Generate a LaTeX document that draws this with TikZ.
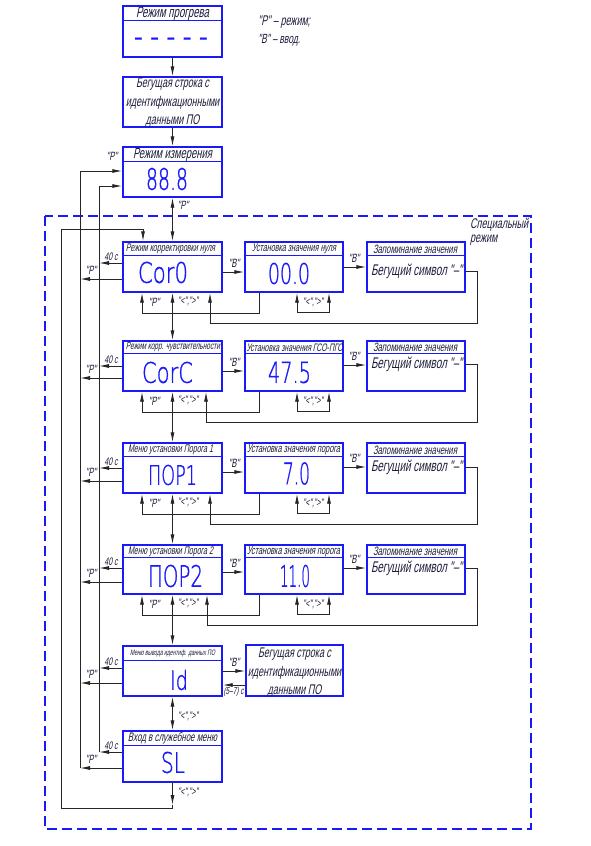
\documentclass[tikz,border=0pt]{standalone}
\usepackage{fontspec}
\usetikzlibrary{arrows.meta,calc}
\newfontfamily\gost[FakeStretch=0.64,FakeSlant=0.2]{Liberation Sans}
\newfontfamily\seg[FakeBold=1.2]{DejaVu Sans ExtraLight}
\newfontfamily\segm{DejaVu Sans Mono}
\definecolor{bblue}{RGB}{25,25,250}
\definecolor{ink}{RGB}{28,28,58}
\newcommand\fitw[2]{\resizebox{#1}{!}{#2}}
\newcommand\fitwh[3]{\resizebox{#1}{#2}{#3}}
\begin{document}
\begin{tikzpicture}[x=1pt,y=-1pt,
  box/.style={draw=bblue, line width=1.4pt, minimum width=99pt, minimum height=50pt, inner sep=0pt},
  divl/.style={draw=bblue, line width=1.4pt},
  ttl/.style={inner sep=0pt, text=ink, font=\gost\fontsize{14}{16}\selectfont},
  mtxt/.style={inner sep=0pt, text=ink, align=center, font=\gost\fontsize{14}{18.5}\selectfont},
  lbl/.style={inner sep=0pt, text=ink, font=\gost\fontsize{11}{13}\selectfont},
  slbl/.style={inner sep=0pt, text=ink, font=\gost\fontsize{12}{14}\selectfont},
  disp/.style={inner sep=0pt, text=bblue, font=\seg},
  wire/.style={draw=black!85, line width=0.9pt},
  arr/.style={wire, -{Latex[length=10pt,width=4pt]}},
  darr/.style={wire, {Latex[length=10pt,width=4pt]}-{Latex[length=10pt,width=4pt]}},
  spframe/.style={draw=bblue, line width=1.3pt, dash pattern=on 10pt off 5pt},
]
\useasboundingbox (0,0) rectangle (591,846);

% special mode frame
\draw[spframe] (45,216) rectangle (531,829);
\node[ttl, anchor=west, align=left] (spec) at (470,232) {\fitw{58pt}{Специальный}\\[-2pt]режим};

% legend
\node[ttl, anchor=west] (leg1) at (258,22) {\fitw{52pt}{"Р" – режим;}};
\node[ttl, anchor=west] (leg2) at (258,40) {\fitw{42pt}{"В" – ввод.}};

% boxes
\node[box, minimum height=51pt] (warm) at (172.5,31.5) {};
\node[box] (run1) at (172.5,102) {};
\node[box] (meas) at (172.5,172) {};
\node[box] (cor0) at (172.5,267) {};
\node[box, minimum width=98pt] (set0) at (294,267) {};
\node[box, minimum width=98pt] (mem0) at (416,267) {};
\node[box] (corC) at (172.5,366) {};
\node[box, minimum width=98pt] (setC) at (294,366) {};
\node[box, minimum width=98pt] (memC) at (416,366) {};
\node[box] (por1) at (172.5,468) {};
\node[box, minimum width=98pt] (setA) at (294,468) {};
\node[box, minimum width=98pt] (memA) at (416,468) {};
\node[box, minimum height=49pt] (por2) at (172.5,569.5) {};
\node[box, minimum width=98pt, minimum height=49pt] (setB) at (294,569.5) {};
\node[box, minimum width=98pt, minimum height=49pt] (memB) at (416,569.5) {};
\node[box] (idm) at (172.5,671) {};
\node[box, minimum width=97pt, minimum height=51pt] (idB) at (294.5,670.5) {};
\node[box, minimum height=51pt] (sl) at (172.5,756.5) {};

\foreach \n/\d in {warm/15,meas/15,cor0/14,set0/14,mem0/14,corC/13,setC/13,memC/13,por1/14,setA/14,memA/14,por2/13,setB/13,memB/13,idm/15,sl/15}
  \draw[divl] ($(\n.north west)+(0,\d)$) -- ($(\n.north east)+(0,\d)$);

% titles
\node[ttl] (tWarm) at (172.5,13.5) {\fitw{73pt}{Режим прогрева}};
\node[ttl] (tMeas) at (172.5,154.5) {\fitw{79pt}{Режим измерения}};
\node[ttl] (tCor0) at (170.5,249) {\fitw{89pt}{Режим корректировки нуля}};
\node[ttl] (tSet0) at (294,249) {\fitw{84pt}{Установка значения нуля}};
\node[ttl] (tMem0) at (415,249) {\fitw{84pt}{Запоминание значения}};
\node[ttl] (tCorC) at (173,347.5) {\fitw{94pt}{Режим корр. чувствительности}};
\node[ttl] (tSetC) at (294.5,347.5) {\fitw{96pt}{Установка значения ГСО-ПГС}};
\node[ttl] (tMemC) at (415,347.5) {\fitw{84pt}{Запоминание значения}};
\node[ttl] (tPor1) at (170.5,450) {\fitw{85pt}{Меню установки Порога 1}};
\node[ttl] (tSetA) at (293.5,450) {\fitw{93pt}{Установка значения порога}};
\node[ttl] (tMemA) at (415,450) {\fitw{84pt}{Запоминание значения}};
\node[ttl] (tPor2) at (170.5,551.5) {\fitw{85pt}{Меню установки Порога 2}};
\node[ttl] (tSetB) at (293.5,551.5) {\fitw{93pt}{Установка значения порога}};
\node[ttl] (tMemB) at (415,551.5) {\fitw{84pt}{Запоминание значения}};
\node[ttl] (tIdm) at (172.5,653.5) {\fitw{85pt}{Меню вывода идентиф. данных ПО}};
\node[ttl] (tSl) at (172.5,738.5) {\fitw{89pt}{Вход в служебное меню}};

\node[mtxt] (xRun1) at (172.5,103) {Бегущая строка с\\идентификационными\\данными ПО};
\node[mtxt] (xIdB) at (294.5,673) {Бегущая строка с\\идентификационными\\данными ПО};

% displays
\node[disp, anchor=base, font=\segm\fontsize{27}{27}\selectfont] (dWarm) at (171,46.3) {-\kern0pt-\kern0pt-\kern0pt-\kern0pt-};
\node[disp] (dMeas) at (167,179) {\fitwh{42pt}{22pt}{88.8}};
\node[disp] (dCor0) at (163,272.5) {\fitwh{50pt}{21pt}{Cor0}};
\node[disp] (dSet0) at (289,273.5) {\fitwh{42pt}{21pt}{00.0}};
\node[disp] (dCorC) at (167.5,372.5) {\fitwh{51pt}{21pt}{CorC}};
\node[disp] (dSetC) at (289.5,372.5) {\fitwh{43pt}{21pt}{47.5}};
\node[disp] (dPor1) at (172.5,475) {\fitwh{49pt}{20pt}{ПОР1}};
\node[disp] (dSetA) at (296.5,473.5) {\fitwh{27pt}{22pt}{7.0}};
\node[disp] (dPor2) at (175.5,576) {\fitwh{55pt}{22pt}{ПОР2}};
\node[disp] (dSetB) at (295,576) {\fitwh{30pt}{22pt}{11.0}};
\node[disp] (dIdm) at (179,680) {\fitwh{18pt}{20pt}{Id}};
\node[disp] (dSl) at (173,762.5) {\fitwh{24pt}{21pt}{SL}};

% main chain
\draw[arr] (warm.south) -- (run1.north);
\draw[arr] (run1.south) -- (meas.north);
\draw[darr] (meas.south) -- (cor0.north);
\draw[darr] (cor0.south) -- (corC.north);
\draw[darr] (corC.south) -- (por1.north);
\draw[darr] (por1.south) -- (por2.north);
\draw[darr] (por2.south) -- (idm.north);
\draw[darr] (idm.south) -- (sl.north);
\node[slbl] (lTopP) at (112,156) {"Р"};
\node[slbl] (lMidP) at (183,205) {"Р"};

% buses
\coordinate (pbus) at (80,171);
\coordinate (tbus) at (99,186);
\draw[arr] (80,768) -- (pbus) -- (pbus-|meas.west);
\draw[arr] (99,752) -- (tbus) -- (tbus-|meas.west);

% rows with set/memory boxes
\foreach \A/\B/\C/\yt/\yp/\yab/\ybc/\yc/\xl/\yr/\yl/\ys in {
  cor0/set0/mem0/263/279/272/267/271/210/313/323/312,
  corC/setC/memC/366/378/371/365/364/206/412/422/411,
  por1/setA/memA/468/481/472/467/467/210/514/524/513,
  por2/setB/memB/568/582/572/568/568/207/615/625/614}{
  \draw[arr] (\A.west|-0,\yt) -- (tbus|-0,\yt);
  \draw[arr] (\A.west|-0,\yp) -- (pbus|-0,\yp);
  \node[lbl] at (111,\yt-6) {40 с};
  \node[slbl] at (91,\yp-9) {"Р"};
  \draw[arr] (\A.east|-0,\yab) -- (\B.west|-0,\yab);
  \node[slbl] at (234,\yab-9) {"В"};
  \draw[arr] (\B.east|-0,\ybc) -- (\C.west|-0,\ybc);
  \node[slbl] at (354,\ybc-9) {"В"};
  \node[ttl] at (416.5,\yc) {\fitw{91pt}{Бегущий символ "–"}};
  \draw[arr] (\B.south-|259,0) -- (259,\yr) -- (142,\yr) -- (142,0|-\A.south);
  \node[slbl] at (154,\yr-11) {"Р"};
  \node[lbl] at (188,\yr-12) {"<",">"};
  \draw[arr] (\C.east|-0,\yc) -- (477,\yc) -- (477,\yl) -- (\xl,\yl) -- (\xl,0|-\A.south);
  \draw[darr] (297,0|-\B.south) -- (297,\ys) -- (329,\ys) -- (329,0|-\B.south);
  \node[lbl] at (313,\ys-10) {"<",">"};
}

% Id row
\draw[arr] (idm.west|-0,668) -- (tbus|-0,668);
\draw[arr] (idm.west|-0,683) -- (pbus|-0,683);
\node[lbl] (lIdT) at (111,662) {40 с};
\node[slbl] (lIdP) at (91,674) {"Р"};
\draw[arr] (idm.east|-0,671) -- (idB.west|-0,671);
\draw[arr] (idB.west|-0,685) -- (idm.east|-0,685);
\node[slbl] (lIdB) at (234,662) {"В"};
\node[lbl] (lIdS) at (233.5,692) {\fitw{20pt}{(5–7) с}};
\node[lbl] (lIdK) at (188,716) {"<",">"};

% SL row
\draw[arr] (sl.west|-0,752) -- (tbus|-0,752);
\draw[arr] (sl.west|-0,768) -- (pbus|-0,768);
\node[lbl] (lSlT) at (111,746) {40 с};
\node[slbl] (lSlP) at (91,759) {"Р"};
\node[lbl] (lSlK) at (188,792) {"<",">"};
\draw[arr] (sl.south) -- (sl.south|-0,805);
\draw[arr] (sl.south|-0,805) -- (sl.south|-0,808) -- (61,808) -- (61,229) -- (143,229) -- (143,0|-cor0.north);
\end{tikzpicture}
\end{document}
